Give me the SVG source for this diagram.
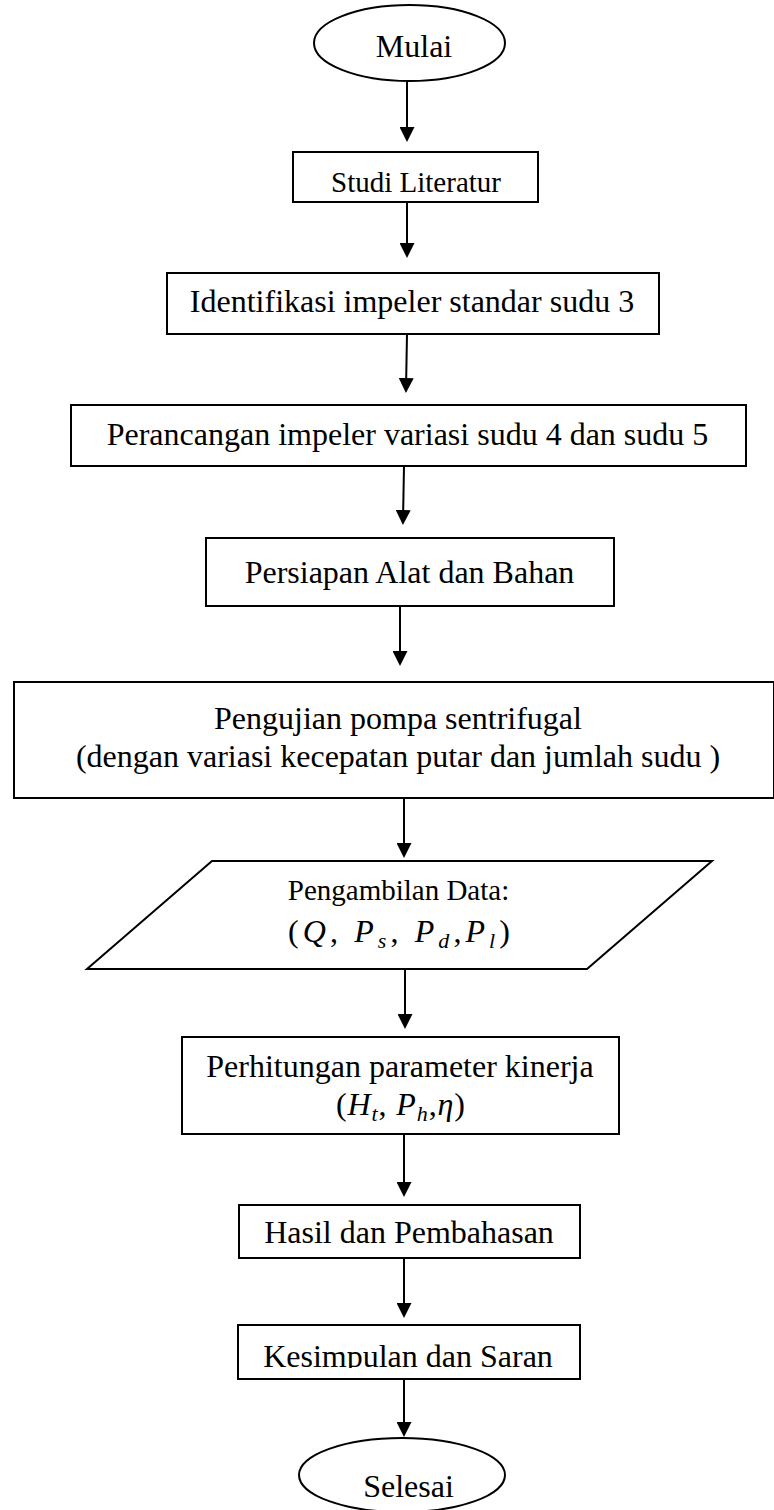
<svg xmlns="http://www.w3.org/2000/svg" width="774" height="1510" viewBox="0 0 774 1510">
<style>
.box{fill:#fff;stroke:#000;stroke-width:2}
.t{font-family:"Liberation Serif","Times New Roman",serif;font-size:32px;fill:#000;text-anchor:middle}
.ts{font-size:29px}
.m{font-family:"Liberation Serif","Times New Roman",serif;font-size:32px;fill:#000}
.i{font-style:italic}
.sub{font-size:22px}
#connectors line{stroke:#000;stroke-width:2}
</style>
<defs>
<marker id="ah" viewBox="0 0 15 15" markerWidth="15" markerHeight="15" markerUnits="userSpaceOnUse" refX="11" refY="7.5" orient="auto">
<path d="M0,0 L15,7.5 L0,15 z" fill="#000"/>
</marker>
<clipPath id="clipK"><rect x="238" y="1325" width="342" height="43"/></clipPath>
</defs>

<g id="connectors">
<line x1="407" y1="81" x2="407" y2="138" marker-end="url(#ah)"/>
<line x1="407" y1="202" x2="407" y2="254" marker-end="url(#ah)"/>
<line x1="407" y1="334" x2="406" y2="389" marker-end="url(#ah)"/>
<line x1="404" y1="466" x2="403" y2="521" marker-end="url(#ah)"/>
<line x1="400" y1="606" x2="400" y2="662" marker-end="url(#ah)"/>
<line x1="404" y1="798" x2="404" y2="854" marker-end="url(#ah)"/>
<line x1="405" y1="969" x2="405" y2="1025" marker-end="url(#ah)"/>
<line x1="404" y1="1134" x2="404" y2="1193" marker-end="url(#ah)"/>
<line x1="404" y1="1258" x2="404" y2="1314" marker-end="url(#ah)"/>
<line x1="404" y1="1379" x2="404" y2="1433" marker-end="url(#ah)"/>
</g>

<g id="mulai">
<ellipse class="box" cx="409.5" cy="43" rx="95.5" ry="38"/>
<text class="t" x="414" y="57">Mulai</text>
</g>

<g id="studi">
<rect class="box" x="293" y="152" width="245" height="50"/>
<text class="t ts" x="416" y="192">Studi Literatur</text>
</g>

<g id="identifikasi">
<rect class="box" x="167" y="273" width="492" height="61"/>
<text class="t" x="412" y="312">Identifikasi impeler standar sudu 3</text>
</g>

<g id="perancangan">
<rect class="box" x="71" y="405" width="675" height="61"/>
<text class="t" x="407.5" y="445">Perancangan impeler variasi sudu 4 dan sudu 5</text>
</g>

<g id="persiapan">
<rect class="box" x="206" y="538" width="408" height="68"/>
<text class="t" x="409.5" y="583">Persiapan Alat dan Bahan</text>
</g>

<g id="pengujian">
<rect class="box" x="14" y="682" width="760" height="116"/>
<text class="t" x="398" y="729">Pengujian pompa sentrifugal</text>
<text class="t" x="398" y="767">(dengan variasi kecepatan putar dan jumlah sudu )</text>
</g>

<g id="pengambilan">
<polygon class="box" points="212,861 712,861 587,969 87,969"/>
<text class="t ts" x="398.5" y="900">Pengambilan Data:</text>
<text class="m" x="288" y="942" textLength="222" lengthAdjust="spacing">(<tspan class="i">Q</tspan>, <tspan class="i">P</tspan><tspan class="i sub" dy="6">s</tspan><tspan dy="-6">,  </tspan><tspan class="i">P</tspan><tspan class="i sub" dy="6">d</tspan><tspan dy="-6">,</tspan><tspan class="i">P</tspan><tspan class="i sub" dy="6">l</tspan><tspan dy="-6">)</tspan></text>
</g>

<g id="perhitungan">
<rect class="box" x="182" y="1037" width="437" height="97"/>
<text class="t" x="400" y="1077">Perhitungan parameter kinerja</text>
<text class="m" x="336" y="1115" textLength="129" lengthAdjust="spacing">(<tspan class="i">H</tspan><tspan class="i sub" dy="6">t</tspan><tspan dy="-6">, </tspan><tspan class="i">P</tspan><tspan class="i sub" dy="6">h</tspan><tspan dy="-6">,</tspan><tspan class="i">η</tspan>)</text>
</g>

<g id="hasil">
<rect class="box" x="239" y="1205" width="341" height="53"/>
<text class="t" x="409" y="1243">Hasil dan Pembahasan</text>
</g>

<g id="kesimpulan">
<rect class="box" x="238" y="1325" width="342" height="54"/>
<text class="t" x="408" y="1367" clip-path="url(#clipK)">Kesimpulan dan Saran</text>
</g>

<g id="selesai">
<ellipse class="box" cx="402" cy="1475" rx="103" ry="37"/>
<text class="t" x="408.5" y="1497">Selesai</text>
</g>
</svg>
